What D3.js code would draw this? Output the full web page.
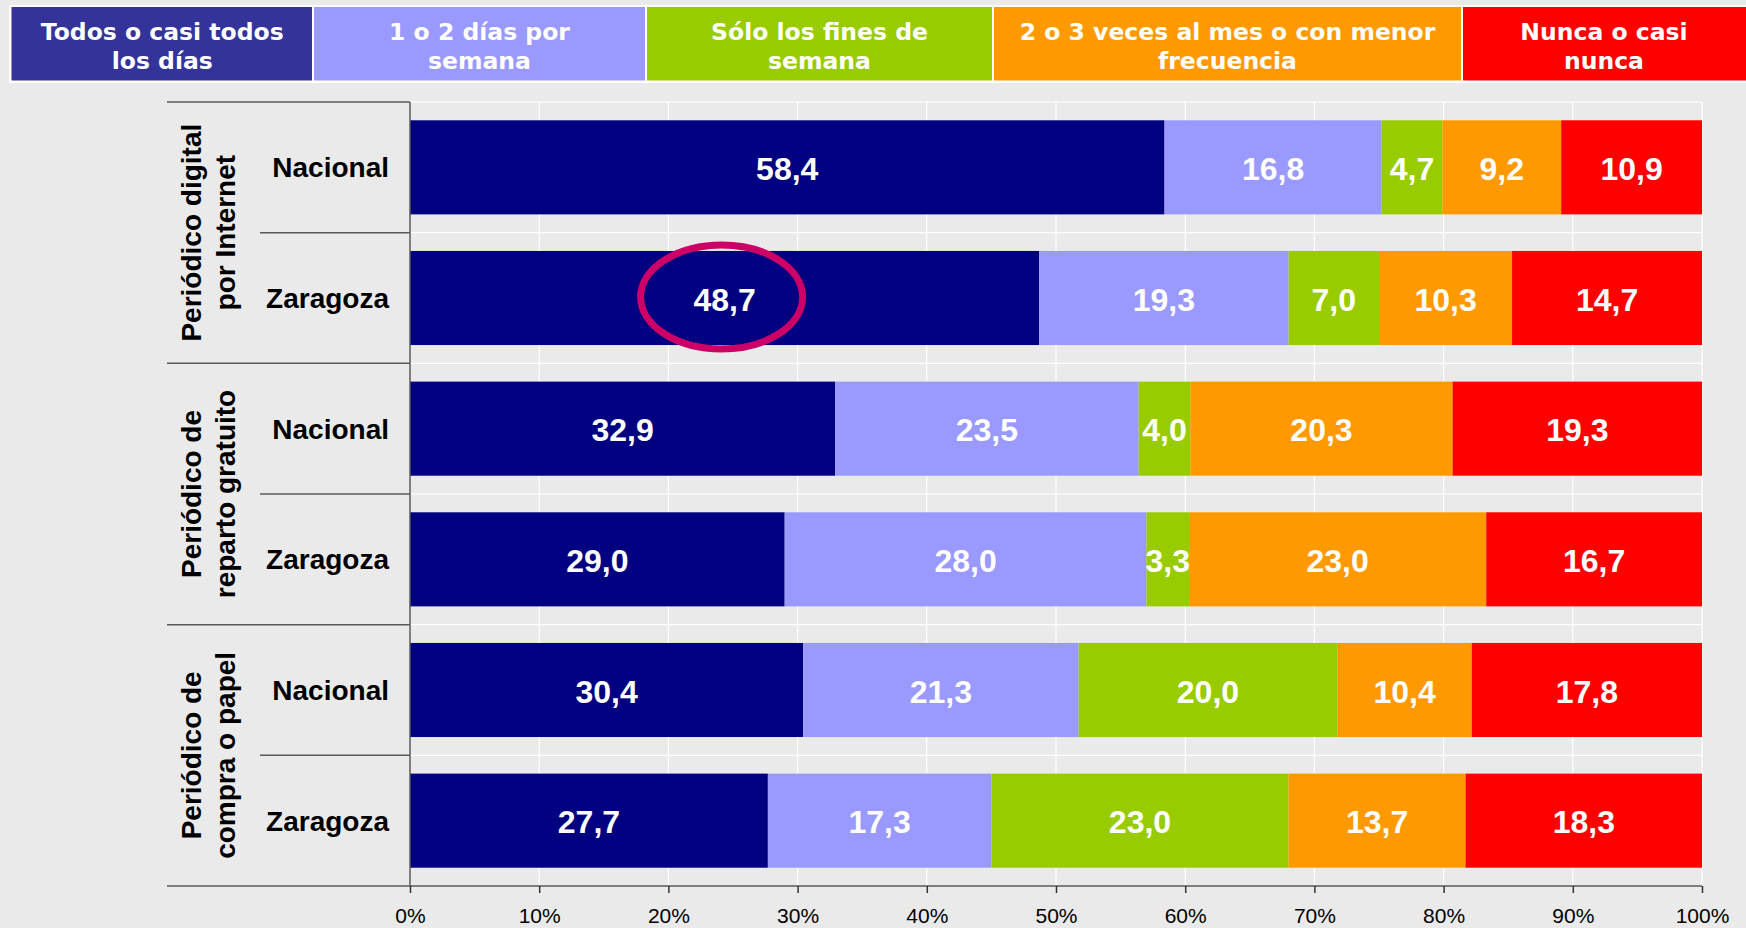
<!DOCTYPE html>
<html>
<head>
<meta charset="utf-8">
<script src="https://cdn.jsdelivr.net/npm/d3@7"></script>
<style>
body { margin: 0; background: #eaeaea; }
svg { display: block; }
</style>
</head>
<body>
<div id="chart"></div>
<script>
// data
var groupLabels = [["Periódico digital", "por Internet"], ["Periódico de", "reparto gratuito"], ["Periódico de", "compra o papel"]];
var regions = ["Nacional", "Zaragoza"];
var seriesNames = [["Todos o casi todos", "los días"], ["1 o 2 días por", "semana"], ["Sólo los fines de", "semana"], ["2 o 3 veces al mes o con menor", "frecuencia"], ["Nunca o casi", "nunca"]];
var seriesColors = ["#000080", "#9999ff", "#99cc00", "#ff9900", "#ff0000"];
var legendColors = ["#333399", "#9999ff", "#99cc00", "#ff9900", "#ff0000"];

var todos    = [58.4, 48.7, 32.9, 29.0, 30.4, 27.7];
var semana   = [16.8, 19.3, 23.5, 28.0, 21.3, 17.3];
var finde    = [4.7, 7.0, 4.0, 3.3, 20.0, 23.0];
var mensual  = [9.2, 10.3, 20.3, 23.0, 10.4, 13.7];
var nunca    = [10.9, 14.7, 19.3, 16.7, 17.8, 18.3];
var tickValues = [0, 0.1, 0.2, 0.3, 0.4, 0.5, 0.6, 0.7, 0.8, 0.9, 1];
var highlightRow = 1, highlightSeries = 0;

////////////
var W = 1746, H = 928;
var plotL = 410, plotR = 1702, plotT = 102, plotB = 886;
var groupLineX = 167, subLineX = 260;

var svg = d3.select("#chart").append("svg")
	.attr("width", W)
	.attr("height", H);
svg.append("rect").attr("width", W).attr("height", H).attr("fill", "#eaeaea");

var allSeries = [todos, semana, finde, mensual, nunca];
var rows = [];
groupLabels.forEach(function(g, gi) {
	regions.forEach(function(r, ri) {
		var i = gi * regions.length + ri;
		var vals = allSeries.map(function(s) { return s[i]; });
		rows.push({id: i, group: gi, region: r, vals: vals, total: d3.sum(vals)});
	});
});

var x = d3.scaleLinear().domain([0, 1]).range([plotL, plotR]);
var y = d3.scaleBand().domain(rows.map(function(d) { return d.id; }))
	.range([plotT, plotB]).paddingInner(0.28).paddingOuter(0.14);
var step = y.step();

/////////// GRID
var grid = svg.append("g");
grid.selectAll("line.v").data(tickValues.slice(1)).enter().append("line")
	.attr("x1", function(d) { return x(d); }).attr("x2", function(d) { return x(d); })
	.attr("y1", plotT).attr("y2", plotB)
	.attr("stroke", "#fff").attr("stroke-width", 1.2);
grid.selectAll("line.h").data(d3.range(rows.length)).enter().append("line")
	.attr("x1", plotL).attr("x2", plotR)
	.attr("y1", function(d) { return plotT + d * step; })
	.attr("y2", function(d) { return plotT + d * step; })
	.attr("stroke", "#fff").attr("stroke-width", 1.2);

/////////// BARS
var segs = [];
rows.forEach(function(r) {
	var acc = 0;
	r.vals.forEach(function(v, si) {
		segs.push({row: r, s: si, v: v, x0: acc / r.total, x1: (acc + v) / r.total});
		acc += v;
	});
});
svg.selectAll("rect.seg").data(segs).enter().append("rect")
	.attr("x", function(d) { return x(d.x0); })
	.attr("width", function(d) { return x(d.x1) - x(d.x0); })
	.attr("y", function(d) { return y(d.row.id); })
	.attr("height", y.bandwidth())
	.attr("fill", function(d) { return seriesColors[d.s]; });

svg.selectAll("text.val").data(segs).enter().append("text")
	.attr("x", function(d) { return x((d.x0 + d.x1) / 2); })
	.attr("y", function(d) { return y(d.row.id) + y.bandwidth() / 2 + 12.5; })
	.attr("text-anchor", "middle")
	.style("font-family", "'Liberation Sans', Arial, sans-serif")
	.style("font-weight", "bold")
	.style("font-size", "32px")
	.attr("fill", "#fff")
	.text(function(d) { return d.v.toFixed(1).replace(".", ","); });

/////////// HIGHLIGHT
var hs = segs.filter(function(d) { return d.row.id === highlightRow && d.s === highlightSeries; })[0];
svg.append("ellipse")
	.attr("cx", x((hs.x0 + hs.x1) / 2) - 3)
	.attr("cy", y(hs.row.id) + y.bandwidth() / 2 - 1)
	.attr("rx", 81).attr("ry", 52)
	.attr("fill", "none")
	.attr("stroke", "#cc0066")
	.attr("stroke-width", 7);

/////////// LEFT AXIS
var axisCol = "#5a5a5a";
var ax = svg.append("g").attr("stroke", axisCol).attr("stroke-width", 1.5);
ax.append("line").attr("x1", plotL).attr("x2", plotL).attr("y1", plotT).attr("y2", plotB);
d3.range(rows.length).forEach(function(i) {
	var yy = plotT + i * step;
	var isGroup = i % regions.length === 0;
	ax.append("line")
		.attr("x1", isGroup ? groupLineX : subLineX).attr("x2", plotL)
		.attr("y1", yy).attr("y2", yy);
});

svg.selectAll("text.reg").data(rows).enter().append("text")
	.attr("x", 389)
	.attr("y", function(d) { return y(d.id) + y.bandwidth() / 2 + 10; })
	.attr("text-anchor", "end")
	.style("font-family", "'Liberation Sans', Arial, sans-serif")
	.style("font-weight", "bold")
	.style("font-size", "28px")
	.attr("fill", "#000")
	.text(function(d) { return d.region; });

var gl = svg.selectAll("g.grp").data(groupLabels).enter().append("g")
	.attr("transform", function(d, i) { return "translate(0," + (plotT + (i + 0.5) * regions.length * step) + ") rotate(-90)"; });
gl.selectAll("text").data(function(d) { return d; }).enter().append("text")
	.attr("x", 0)
	.attr("y", function(d, i) { return 201 + i * 34; })
	.attr("text-anchor", "middle")
	.style("font-family", "'Liberation Sans', Arial, sans-serif")
	.style("font-weight", "bold")
	.style("font-size", "28px")
	.attr("fill", "#000")
	.text(function(d) { return d; });

/////////// BOTTOM AXIS
svg.append("line")
	.attr("x1", groupLineX).attr("x2", plotR)
	.attr("y1", plotB).attr("y2", plotB)
	.attr("stroke", axisCol).attr("stroke-width", 1.5);
var xAxis = svg.append("g")
	.attr("transform", "translate(0," + plotB + ")")
	.call(d3.axisBottom(x).tickValues(tickValues).tickFormat(d3.format(".0%")).tickSize(7));
xAxis.select(".domain").remove();
xAxis.selectAll(".tick line").attr("stroke", "#333").attr("stroke-width", 1.5);
xAxis.selectAll(".tick text")
	.attr("y", 37).attr("dy", 0)
	.style("font-family", "'Liberation Sans', Arial, sans-serif")
	.style("font-size", "21px")
	.attr("fill", "#000");

/////////// LEGEND
var legendEdges = [11.5, 313, 646, 993, 1462, 1746];
var legend = svg.append("g");
legend.append("rect")
	.attr("x", 9).attr("y", 5).attr("width", W).attr("height", 78)
	.attr("fill", "#fff");
var lg = legend.selectAll("g.item").data(seriesNames).enter().append("g");
lg.append("rect")
	.attr("x", function(d, i) { return legendEdges[i] + (i ? 1 : 0); })
	.attr("y", 7)
	.attr("width", function(d, i) { return legendEdges[i + 1] - legendEdges[i] - (i ? 1 : 0) - (i < 4 ? 1 : 0); })
	.attr("height", 73.5)
	.attr("fill", function(d, i) { return legendColors[i]; });
lg.each(function(d, i) {
	var cx = (legendEdges[i] + legendEdges[i + 1]) / 2;
	d3.select(this).selectAll("text").data(d).enter().append("text")
		.attr("x", cx)
		.attr("y", function(t, j) { return 39.5 + j * 29; })
		.attr("text-anchor", "middle")
		.style("font-family", "'DejaVu Sans', Verdana, sans-serif")
		.style("font-weight", "bold")
		.style("font-size", "23.5px")
		.attr("fill", "#fff")
		.text(function(t) { return t; });
});
</script>
</body>
</html>
